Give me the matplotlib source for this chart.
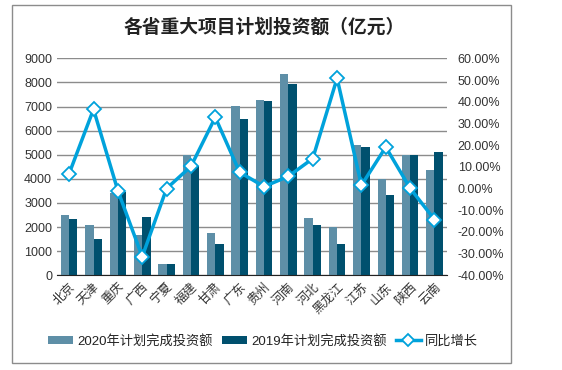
import matplotlib
matplotlib.use("Agg")
import matplotlib.pyplot as plt
import numpy as np
from matplotlib.patches import Rectangle
from matplotlib.ticker import FuncFormatter

plt.rcParams['font.family'] = ['Liberation Sans', 'Noto Sans CJK SC', 'DejaVu Sans']

provinces = ["北京", "天津", "重庆", "广西", "宁夏", "福建", "甘肃", "广东",
             "贵州", "河南", "河北", "黑龙江", "江苏", "山东", "陕西", "云南"]
plan_2020 = [2520, 2090, 3420, 1670, 470, 4990, 1770, 7010,
             7280, 8350, 2380, 1990, 5410, 3980, 4980, 4370]
plan_2019 = [2340, 1510, 3470, 2420, 470, 4550, 1310, 6490,
             7210, 7940, 2090, 1300, 5330, 3330, 4980, 5120]
growth = [6.9, 36.5, -1.0, -31.4, 0.0, 10.2, 32.8, 7.5,
          0.9, 5.6, 13.8, 50.8, 1.5, 19.1, 0.1, -14.3]

c2020 = "#5e8fa7"
c2019 = "#00506e"
cline = "#00a2db"

fig = plt.figure(figsize=(5.62, 3.70), dpi=100)
ax = fig.add_axes([0.1014, 0.2559, 0.6934, 0.5865])

x = np.arange(len(provinces))
w = 0.34
ax.bar(x - w / 2, plan_2020, w, color=c2020, label="2020年计划完成投资额", zorder=2)
ax.bar(x + w / 2, plan_2019, w, color=c2019, label="2019年计划完成投资额", zorder=2)
ax.set_ylim(0, 9000)
ax.set_yticks(range(0, 9001, 1000))
ax.set_xlim(-0.5, len(provinces) - 0.5)
ax.set_xticks(x)
ax.set_xticklabels(provinces, rotation=45, ha="right", rotation_mode="anchor", fontsize=9)
ax.grid(axis="y", color="#8c8c8c", linewidth=1, zorder=0)
ax.tick_params(axis="both", length=0, labelsize=9, colors="#333333")
ax.tick_params(axis="x", pad=4)
for s in ["top", "left", "right"]:
    ax.spines[s].set_visible(False)
ax.spines["bottom"].set_color("#222222")

ax2 = ax.twinx()
ax2.plot(x, growth, color=cline, linewidth=2.5, marker="D", markersize=7,
         markerfacecolor="white", markeredgecolor=cline, markeredgewidth=1.3,
         label="同比增长", zorder=3)
ax2.set_ylim(-40, 60)
ax2.set_yticks(range(-40, 61, 10))
ax2.yaxis.set_major_formatter(FuncFormatter(lambda v, p: f"{v:.2f}%"))
ax2.tick_params(axis="y", length=0, labelsize=9, colors="#333333", pad=8)
for s in ax2.spines.values():
    s.set_visible(False)

fig.text(0.47, 0.925, "各省重大项目计划投资额（亿元）", ha="center", va="center",
         fontsize=13.5, fontweight="bold", color="#222222")

h1, l1 = ax.get_legend_handles_labels()
h2, l2 = ax2.get_legend_handles_labels()
leg = fig.legend(h1 + h2, l1 + l2, loc="center", bbox_to_anchor=(0.468, 0.078), ncol=3,
                 frameon=False, fontsize=9.5, handlelength=1.9, handleheight=0.6,
                 columnspacing=0.7, handletextpad=0.3, labelcolor="#222222")
leg.legend_handles[2].set_markersize(6)

fig.patches.append(Rectangle((12 / 562, 1 - 363 / 370), 499 / 562, 358 / 370,
                             transform=fig.transFigure, fill=False,
                             edgecolor="#8c8c8c", linewidth=1))

fig.savefig("out.png", dpi=100)
